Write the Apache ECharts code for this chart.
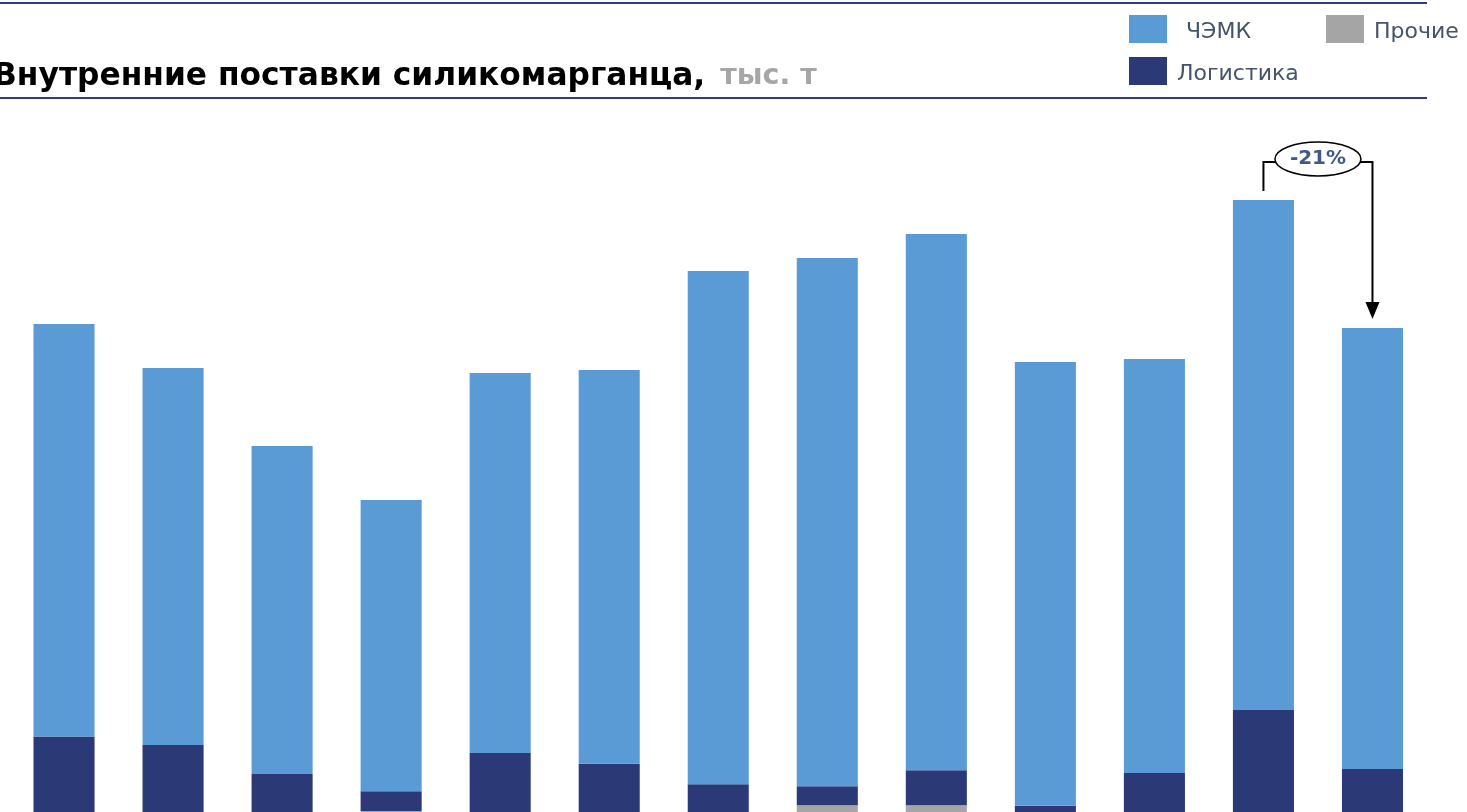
<!DOCTYPE html>
<html>
<head>
<meta charset="utf-8">
<script src="https://cdn.jsdelivr.net/npm/echarts@6/dist/echarts.min.js"></script>
<style>
  html, body { margin: 0; padding: 0; background: #fff; overflow: hidden; }
  /* the plot runs slightly past the bottom edge of the window */
  #chart { width: 1467px; height: 820px; }
</style>
</head>
<body>
<div id="chart"></div>
<script>
// Поставки силикомарганца на внутренний рынок, тыс. т
const periods   = ['2011', '2012', '2013', '2014', '2015', '2016', '2017', '2018', '2019', '2020', '2021', '2022', '2023'];
const chemk     = [117.9, 107.7, 93.7, 83.2, 108.6, 112.5, 146.6, 150.9, 153.2, 126.8, 118.3, 145.7, 126.0];
const logistics = [22.7, 20.3, 12.0, 5.7, 18.0, 14.9, 9.1, 5.4, 10.0, 2.9, 12.3, 30.3, 13.4];
const other     = [0, 0, 0, 1.4, 0, 0, 0, 3.1, 3.1, 0, 0, 0, 0];

const colors = { chemk: '#5B9BD5', logistics: '#2B3A77', other: '#A5A5A5' };

const chart = echarts.init(document.getElementById('chart'), null, { renderer: 'canvas' });

// Legend label: text set a few pixels below the middle of the swatch
function legendLabel(gap) {
  return {
    formatter: '{t|{name}}',
    textStyle: {
      rich: {
        t: { fontFamily: 'DejaVu Sans', fontSize: 22, color: '#44546A',
             padding: [6, 0, 0, gap] }
      }
    }
  };
}
const legendBase = { padding: 0, itemWidth: 38, itemHeight: 28, icon: 'rect' };

const option = {
  animation: false,
  backgroundColor: '#fff',
  grid: { left: 9.5, right: 40, top: 116, bottom: 4, containLabel: false },
  legend: [
    Object.assign({ data: ['ЧЭМК'], left: 1129, top: 15 }, legendBase, legendLabel(14)),
    Object.assign({ data: ['Прочие'], left: 1326, top: 15 }, legendBase, legendLabel(5)),
    Object.assign({ data: ['Логистика'], left: 1129, top: 57 }, legendBase, legendLabel(5))
  ],
  xAxis: {
    type: 'category',
    data: periods,
    axisLine: { show: false },
    axisTick: { show: false },
    axisLabel: { show: false }
  },
  yAxis: {
    type: 'value',
    min: 0,
    max: 200,
    show: false,
    splitLine: { show: false }
  },
  series: [
    { name: 'Прочие', type: 'bar', stack: 'total', data: other, barWidth: '56%',
      itemStyle: { color: colors.other } },
    { name: 'Логистика', type: 'bar', stack: 'total', data: logistics, barWidth: '56%',
      itemStyle: { color: colors.logistics } },
    { name: 'ЧЭМК', type: 'bar', stack: 'total', data: chemk, barWidth: '56%',
      itemStyle: { color: colors.chemk } }
  ]
};

chart.setOption(option);

// Заголовок и разделительные линии
const graphics = [
  { type: 'line', shape: { x1: 0, y1: 3, x2: 1427, y2: 3 },
    style: { stroke: '#2E3D7C', lineWidth: 2 } },
  { type: 'line', shape: { x1: 0, y1: 98, x2: 1427, y2: 98 },
    style: { stroke: '#2E3D7C', lineWidth: 2 } },
  { type: 'text', x: -7, y: 77,
    style: {
      text: '{a|Внутренние поставки силикомарганца,}{b|тыс. т}',
      verticalAlign: 'middle',
      rich: {
        a: { fontFamily: 'DejaVu Sans', fontWeight: 'bold', fontSize: 31.3, fill: '#000' },
        b: { fontFamily: 'DejaVu Sans', fontWeight: 'bold', fontSize: 28.5, fill: '#A6A6A6',
             padding: [0, 0, 0, 15] }
      }
    } }
];

// Стрелка изменения между двумя последними периодами
const totals = periods.map((_, i) => chemk[i] + logistics[i] + other[i]);
const i0 = periods.length - 2;
const i1 = periods.length - 1;
const p0 = chart.convertToPixel({ gridIndex: 0 }, [periods[i0], totals[i0]]);
const p1 = chart.convertToPixel({ gridIndex: 0 }, [periods[i1], totals[i1]]);
const change = Math.round((totals[i1] / totals[i0] - 1) * 100);
const level = Math.min(p0[1], p1[1]) - 38;
const cx = (p0[0] + p1[0]) / 2;
const rx = 43, ry = 17;

graphics.push(
  { type: 'polyline', shape: { points: [[p0[0], p0[1] - 9], [p0[0], level], [cx - rx, level]] },
    style: { stroke: '#000', lineWidth: 2, fill: null } },
  { type: 'polyline', shape: { points: [[cx + rx, level], [p1[0], level], [p1[0], p1[1] - 24]] },
    style: { stroke: '#000', lineWidth: 2, fill: null } },
  { type: 'polygon', shape: { points: [[p1[0] - 7, p1[1] - 26], [p1[0] + 7, p1[1] - 26], [p1[0], p1[1] - 9]] },
    style: { fill: '#000' } },
  { type: 'ellipse', shape: { cx: cx, cy: level - 3, rx: rx, ry: ry },
    style: { fill: '#fff', stroke: '#000', lineWidth: 1.5 } },
  { type: 'text', x: cx, y: level - 3,
    style: { text: (change > 0 ? '+' : '') + change + '%', align: 'center', verticalAlign: 'middle',
      fontFamily: 'DejaVu Sans', fontWeight: 'bold', fontSize: 20, fill: '#3F5988' } }
);

chart.setOption({ graphic: graphics });
</script>
</body>
</html>
